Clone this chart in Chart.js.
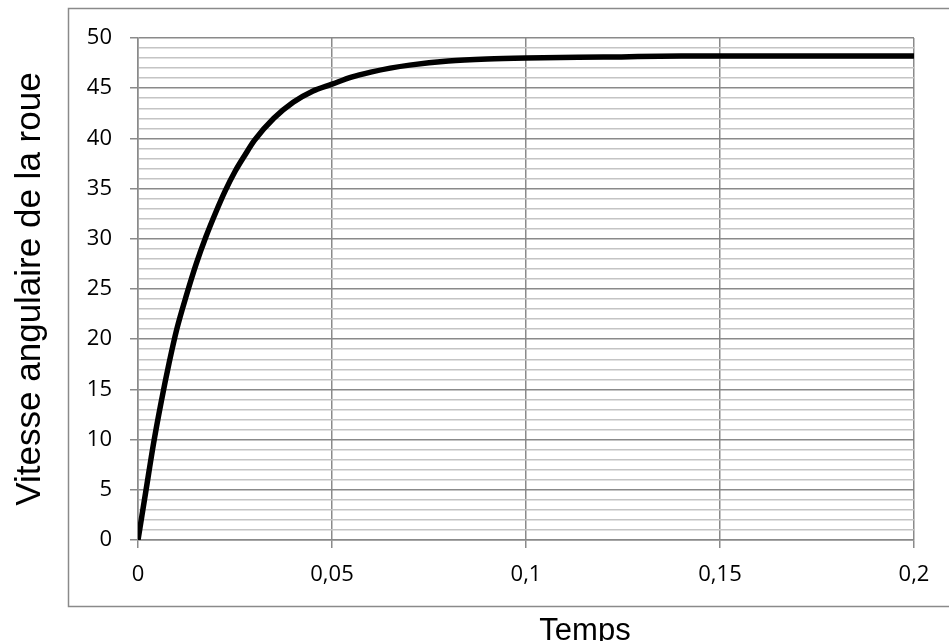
<!DOCTYPE html>
<html>
<head>
<meta charset="utf-8">
<script src="https://cdn.jsdelivr.net/npm/chart.js@4"></script>
<style>
  html, body { margin: 0; padding: 0; background: #fff; }
  #wrap { width: 949px; height: 641px; position: relative; }
</style>
</head>
<body>
<div id="wrap"><canvas id="speedChart" width="949" height="641"></canvas></div>
<script>
// values
const temps   = [0, 0.002, 0.004, 0.006, 0.008, 0.010, 0.0125, 0.015, 0.0175, 0.020, 0.0225, 0.025, 0.0275, 0.030,
                 0.035, 0.040, 0.045, 0.050, 0.055, 0.060, 0.065, 0.070, 0.080, 0.090, 0.100, 0.120, 0.140, 0.170, 0.200];
const vitesse = [0, 4.8, 9.6, 13.8, 17.6, 21.0, 24.4, 27.5, 30.2, 32.6, 34.8, 36.7, 38.3, 39.8,
                 42.0, 43.6, 44.7, 45.4, 46.1, 46.6, 47.0, 47.3, 47.7, 47.9, 48.0, 48.1, 48.2, 48.2, 48.2];

const xTicks = [0, 0.05, 0.1, 0.15, 0.2];
const yMajorStep = 5;

const points = temps.map((t, i) => ({ x: t, y: vitesse[i] }));

const TICK_FONT = { family: 'Open Sans', size: 22 };

// outer frame + "Temps" label
const framePlugin = {
  id: 'frame',
  beforeDraw(chart) {
    const ctx = chart.ctx;
    ctx.save();
    ctx.strokeStyle = '#8a8a8a';
    ctx.lineWidth = 1.5;
    ctx.strokeRect(68.5, 8.5, 1000, 598);
    ctx.restore();
  },
  afterDraw(chart) {
    const ctx = chart.ctx;
    ctx.save();
    ctx.fillStyle = '#000';
    ctx.font = '31px "Liberation Sans", Arial, sans-serif';
    ctx.textAlign = 'center';
    ctx.textBaseline = 'alphabetic';
    ctx.fillText('Temps', 585, 640);
    ctx.restore();
  }
};

new Chart(document.getElementById('speedChart').getContext('2d'), {
  type: 'line',
  data: {
    datasets: [{
      label: 'Vitesse',
      data: points,
      borderColor: '#000',
      borderWidth: 5.5,
      pointRadius: 0,
      cubicInterpolationMode: 'monotone',
      fill: false,
    }]
  },
  options: {
    responsive: false,
    animation: false,
    devicePixelRatio: 1,
    layout: { padding: { left: 0, top: 38, right: 35, bottom: 0 } },
    plugins: { legend: { display: false }, tooltip: { enabled: false } },
    scales: {
      x: {
        type: 'linear',
        min: 0,
        max: 0.2,
        afterFit(scale) { scale.height = 101; },
        afterBuildTicks(scale) { scale.ticks = xTicks.map(v => ({ value: v })); },
        ticks: {
          color: '#000',
          font: TICK_FONT,
          padding: 14,
          maxRotation: 0,
          autoSkip: false,
          callback: v => String(v).replace('.', ',')
        },
        grid: { color: '#8a8a8a', lineWidth: 1.5, tickLength: 8, tickColor: '#8a8a8a' },
        border: { color: '#8a8a8a', width: 1.5 }
      },
      y: {
        min: 0,
        max: 50,
        afterFit(scale) { scale.width = 138; },
        ticks: {
          stepSize: 1,
          autoSkip: false,
          color: '#000',
          font: TICK_FONT,
          padding: 18,
          callback: v => (v % yMajorStep === 0 ? String(v) : '')
        },
        grid: {
          color: c => (c.tick.value % yMajorStep === 0 ? '#8a8a8a' : '#c4c4c4'),
          lineWidth: 1.5,
          tickLength: 8,
          tickColor: c => (c.tick.value % yMajorStep === 0 ? '#8a8a8a' : 'rgba(0,0,0,0)')
        },
        border: { color: '#8a8a8a', width: 1.5 },
        title: {
          display: true,
          text: 'Vitesse angulaire de la roue',
          color: '#000',
          font: { family: 'Liberation Sans', size: 35 },
          padding: { top: 9, bottom: 0 }
        }
      }
    }
  },
  plugins: [framePlugin]
});
</script>
</body>
</html>
